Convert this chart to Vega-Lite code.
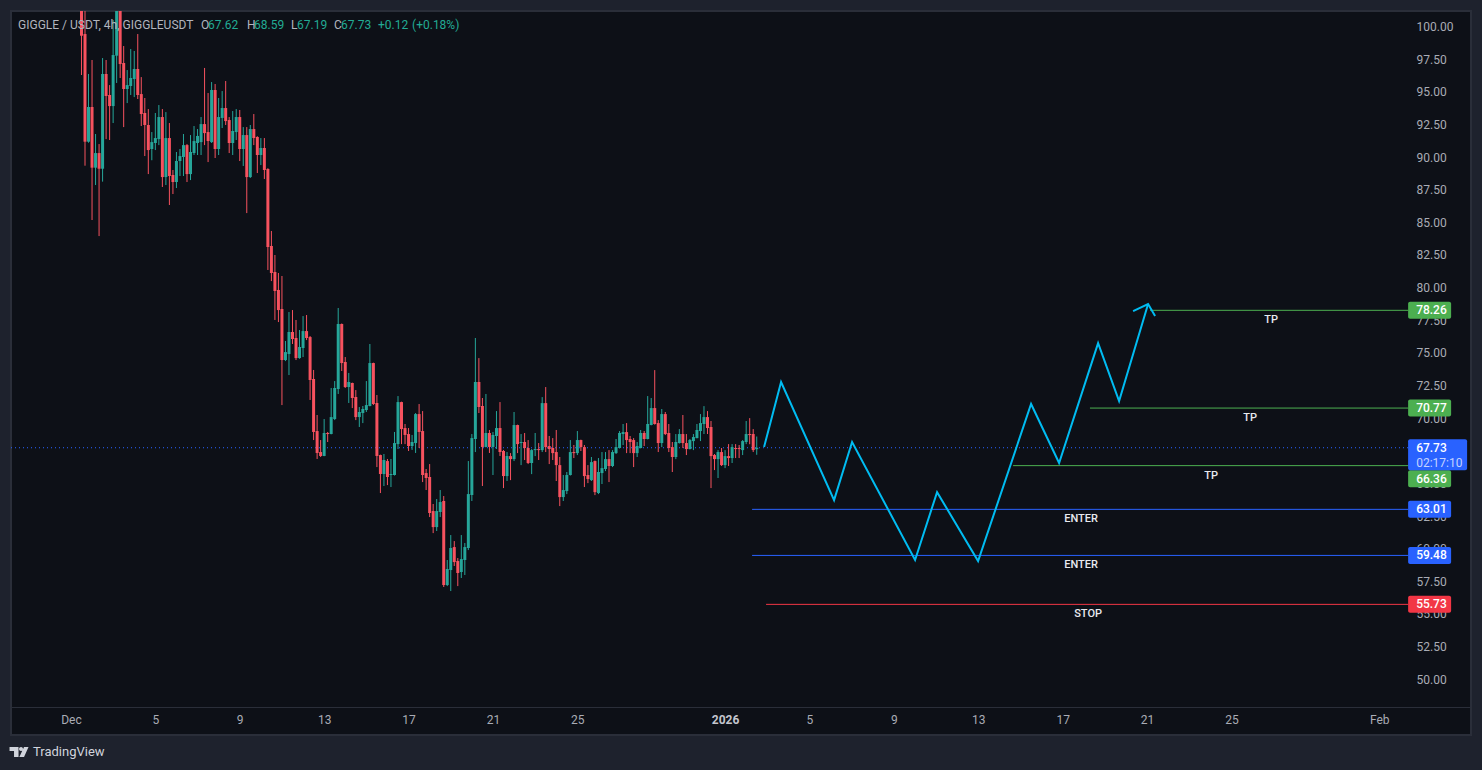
{
  "$schema": "https://vega.github.io/schema/vega-lite/v6.json",
  "width": 1460,
  "height": 724,
  "autosize": "none",
  "padding": {"left": 11, "top": 11, "right": 11, "bottom": 35},
  "background": "#1e222d",
  "datasets": {
    "candles": [
      {"t":"2025-12-01T12:00:00Z","o":103,"h":104.5,"l":96.29,"c":99.3},
      {"t":"2025-12-01T16:00:00Z","o":99.43,"h":103,"l":89.34,"c":91.18},
      {"t":"2025-12-01T20:00:00Z","o":91.18,"h":96.37,"l":91.1,"c":93.84},
      {"t":"2025-12-02T00:00:00Z","o":93.84,"h":97.44,"l":85.18,"c":89.19},
      {"t":"2025-12-02T04:00:00Z","o":89.19,"h":91.77,"l":87.86,"c":90.31},
      {"t":"2025-12-02T08:00:00Z","o":90.31,"h":91,"l":83.95,"c":89.11},
      {"t":"2025-12-02T12:00:00Z","o":89.11,"h":97.59,"l":88.12,"c":96.37},
      {"t":"2025-12-02T16:00:00Z","o":96.37,"h":97.44,"l":91.38,"c":94.68},
      {"t":"2025-12-02T20:00:00Z","o":94.76,"h":95.52,"l":91.31,"c":93.91},
      {"t":"2025-12-03T00:00:00Z","o":93.91,"h":100.5,"l":92.61,"c":97.82},
      {"t":"2025-12-03T04:00:00Z","o":97.77,"h":104,"l":95.68,"c":102.5},
      {"t":"2025-12-03T08:00:00Z","o":102,"h":103,"l":96.06,"c":97.13},
      {"t":"2025-12-03T12:00:00Z","o":97.21,"h":98.51,"l":92.3,"c":95.22},
      {"t":"2025-12-03T16:00:00Z","o":95.22,"h":96.67,"l":94.14,"c":95.52},
      {"t":"2025-12-03T20:00:00Z","o":95.45,"h":98.28,"l":94.76,"c":96.06},
      {"t":"2025-12-04T00:00:00Z","o":95.98,"h":98.13,"l":94.6,"c":96.75},
      {"t":"2025-12-04T04:00:00Z","o":96.75,"h":99.43,"l":94.45,"c":94.76},
      {"t":"2025-12-04T08:00:00Z","o":94.83,"h":96.13,"l":92.38,"c":93.3},
      {"t":"2025-12-04T12:00:00Z","o":93.38,"h":94.53,"l":90.08,"c":92.46},
      {"t":"2025-12-04T16:00:00Z","o":92.46,"h":93.68,"l":88.7,"c":90.54},
      {"t":"2025-12-04T20:00:00Z","o":90.62,"h":91.92,"l":89.76,"c":91.15},
      {"t":"2025-12-05T00:00:00Z","o":91.08,"h":93.38,"l":90.54,"c":91.46},
      {"t":"2025-12-05T04:00:00Z","o":91.38,"h":93.99,"l":90.92,"c":93.07},
      {"t":"2025-12-05T08:00:00Z","o":93.07,"h":93.68,"l":87.71,"c":88.47},
      {"t":"2025-12-05T12:00:00Z","o":88.47,"h":93.45,"l":87.86,"c":91.46},
      {"t":"2025-12-05T16:00:00Z","o":91.46,"h":92.61,"l":86.33,"c":88.55},
      {"t":"2025-12-05T20:00:00Z","o":88.63,"h":89.01,"l":87.17,"c":88.09},
      {"t":"2025-12-06T00:00:00Z","o":88.09,"h":90.39,"l":87.63,"c":89.7},
      {"t":"2025-12-06T04:00:00Z","o":89.7,"h":90.62,"l":88.55,"c":90.08},
      {"t":"2025-12-06T08:00:00Z","o":90.01,"h":91.77,"l":88.55,"c":90.92},
      {"t":"2025-12-06T12:00:00Z","o":90.92,"h":91,"l":88.09,"c":88.7},
      {"t":"2025-12-06T16:00:00Z","o":88.7,"h":91.69,"l":88.24,"c":90.39},
      {"t":"2025-12-06T20:00:00Z","o":90.31,"h":92.38,"l":90.16,"c":91.23},
      {"t":"2025-12-07T00:00:00Z","o":91.08,"h":92.15,"l":90.16,"c":91.62},
      {"t":"2025-12-07T04:00:00Z","o":91.15,"h":93.07,"l":90.16,"c":92.53},
      {"t":"2025-12-07T08:00:00Z","o":92.53,"h":96.83,"l":90.92,"c":91.84},
      {"t":"2025-12-07T12:00:00Z","o":91.92,"h":94.91,"l":89.62,"c":91.23},
      {"t":"2025-12-07T16:00:00Z","o":91.15,"h":95.75,"l":91.08,"c":95.14},
      {"t":"2025-12-07T20:00:00Z","o":95.14,"h":95.6,"l":89.93,"c":90.62},
      {"t":"2025-12-08T00:00:00Z","o":90.62,"h":94.53,"l":90.16,"c":93.07},
      {"t":"2025-12-08T04:00:00Z","o":93,"h":95.06,"l":92.23,"c":93.76},
      {"t":"2025-12-08T08:00:00Z","o":93.76,"h":95.83,"l":92.46,"c":92.76},
      {"t":"2025-12-08T12:00:00Z","o":92.84,"h":93.07,"l":90.31,"c":91.08},
      {"t":"2025-12-08T16:00:00Z","o":91.08,"h":93.53,"l":90.16,"c":92},
      {"t":"2025-12-08T20:00:00Z","o":91.92,"h":93.68,"l":91.31,"c":93.07},
      {"t":"2025-12-09T00:00:00Z","o":93.07,"h":93.61,"l":89.7,"c":90.62},
      {"t":"2025-12-09T04:00:00Z","o":90.62,"h":92.3,"l":89.32,"c":91.69},
      {"t":"2025-12-09T08:00:00Z","o":91.69,"h":92.3,"l":85.71,"c":88.47},
      {"t":"2025-12-09T12:00:00Z","o":88.47,"h":92.46,"l":88.4,"c":92.15},
      {"t":"2025-12-09T16:00:00Z","o":92.15,"h":93.3,"l":90.92,"c":91.46},
      {"t":"2025-12-09T20:00:00Z","o":91.54,"h":91.6,"l":88.78,"c":90.16},
      {"t":"2025-12-10T00:00:00Z","o":90.16,"h":91.46,"l":89.39,"c":90.7},
      {"t":"2025-12-10T04:00:00Z","o":90.7,"h":91.46,"l":88.32,"c":89.01},
      {"t":"2025-12-10T08:00:00Z","o":89.09,"h":89.15,"l":81.35,"c":83.11},
      {"t":"2025-12-10T12:00:00Z","o":83.19,"h":84.34,"l":80.5,"c":81.12},
      {"t":"2025-12-10T16:00:00Z","o":81.2,"h":82.5,"l":77.52,"c":79.74},
      {"t":"2025-12-10T20:00:00Z","o":79.82,"h":81.12,"l":77.36,"c":78.28},
      {"t":"2025-12-11T00:00:00Z","o":78.36,"h":80.89,"l":71,"c":74.45},
      {"t":"2025-12-11T04:00:00Z","o":74.45,"h":75.91,"l":74.37,"c":75.06},
      {"t":"2025-12-11T08:00:00Z","o":74.91,"h":78.13,"l":73.3,"c":76.6},
      {"t":"2025-12-11T12:00:00Z","o":76.6,"h":78.28,"l":75.68,"c":76.06},
      {"t":"2025-12-11T16:00:00Z","o":76.14,"h":77.52,"l":74.45,"c":74.6},
      {"t":"2025-12-11T20:00:00Z","o":74.6,"h":76.75,"l":74.55,"c":75.45},
      {"t":"2025-12-12T00:00:00Z","o":75.37,"h":77.82,"l":74.68,"c":76.67},
      {"t":"2025-12-12T04:00:00Z","o":76.67,"h":77.9,"l":75.98,"c":76.14},
      {"t":"2025-12-12T08:00:00Z","o":76.21,"h":76.29,"l":71.39,"c":72.92},
      {"t":"2025-12-12T12:00:00Z","o":73,"h":73.69,"l":68.32,"c":68.94},
      {"t":"2025-12-12T16:00:00Z","o":69.01,"h":70.24,"l":66.87,"c":67.33},
      {"t":"2025-12-12T20:00:00Z","o":67.4,"h":68.32,"l":67.02,"c":67.1},
      {"t":"2025-12-13T00:00:00Z","o":67.1,"h":69.93,"l":67.08,"c":68.86},
      {"t":"2025-12-13T04:00:00Z","o":68.86,"h":68.94,"l":68.17,"c":68.78},
      {"t":"2025-12-13T08:00:00Z","o":68.78,"h":72.31,"l":68.76,"c":70.08},
      {"t":"2025-12-13T12:00:00Z","o":69.93,"h":72.84,"l":69.85,"c":72.31},
      {"t":"2025-12-13T16:00:00Z","o":72.23,"h":78.44,"l":71.85,"c":77.21},
      {"t":"2025-12-13T20:00:00Z","o":77.21,"h":77.25,"l":73.61,"c":74.22},
      {"t":"2025-12-14T00:00:00Z","o":74.3,"h":74.68,"l":72.31,"c":72.38},
      {"t":"2025-12-14T04:00:00Z","o":72.38,"h":73.46,"l":71.16,"c":72.77},
      {"t":"2025-12-14T08:00:00Z","o":72.69,"h":72.72,"l":70.77,"c":71.54},
      {"t":"2025-12-14T12:00:00Z","o":71.62,"h":72.15,"l":69.85,"c":70.08},
      {"t":"2025-12-14T16:00:00Z","o":70.08,"h":70.85,"l":69.32,"c":70.47},
      {"t":"2025-12-14T20:00:00Z","o":70.39,"h":70.93,"l":69.62,"c":70.7},
      {"t":"2025-12-15T00:00:00Z","o":70.62,"h":72.84,"l":70.47,"c":71},
      {"t":"2025-12-15T04:00:00Z","o":70.93,"h":75.68,"l":70.9,"c":74.22},
      {"t":"2025-12-15T08:00:00Z","o":74.22,"h":74.25,"l":71,"c":71.08},
      {"t":"2025-12-15T12:00:00Z","o":71.16,"h":71.77,"l":66.25,"c":67.1},
      {"t":"2025-12-15T16:00:00Z","o":67.17,"h":67.2,"l":64.26,"c":65.72},
      {"t":"2025-12-15T20:00:00Z","o":65.72,"h":67.25,"l":64.8,"c":66.79},
      {"t":"2025-12-16T00:00:00Z","o":66.71,"h":66.87,"l":64.87,"c":65.49},
      {"t":"2025-12-16T04:00:00Z","o":65.64,"h":66.87,"l":64.72,"c":65.72},
      {"t":"2025-12-16T08:00:00Z","o":65.64,"h":68.94,"l":65.6,"c":68.09},
      {"t":"2025-12-16T12:00:00Z","o":68.01,"h":71.69,"l":67.63,"c":71.23},
      {"t":"2025-12-16T16:00:00Z","o":71.23,"h":71.26,"l":68.01,"c":69.16},
      {"t":"2025-12-16T20:00:00Z","o":69.24,"h":69.55,"l":68.01,"c":68.71},
      {"t":"2025-12-17T00:00:00Z","o":68.78,"h":69.24,"l":67.48,"c":67.86},
      {"t":"2025-12-17T04:00:00Z","o":67.86,"h":68.71,"l":67.56,"c":68.17},
      {"t":"2025-12-17T08:00:00Z","o":68.09,"h":70.39,"l":67.33,"c":70.31},
      {"t":"2025-12-17T12:00:00Z","o":70.31,"h":71.08,"l":67.71,"c":68.94},
      {"t":"2025-12-17T16:00:00Z","o":69.01,"h":70.54,"l":65.1,"c":65.64},
      {"t":"2025-12-17T20:00:00Z","o":65.79,"h":66.1,"l":64.49,"c":65.41},
      {"t":"2025-12-18T00:00:00Z","o":65.49,"h":66.48,"l":62.42,"c":62.73},
      {"t":"2025-12-18T04:00:00Z","o":62.88,"h":63.42,"l":61.19,"c":61.65},
      {"t":"2025-12-18T08:00:00Z","o":61.65,"h":63.8,"l":61.35,"c":62.88},
      {"t":"2025-12-18T12:00:00Z","o":62.81,"h":64.49,"l":62.42,"c":63.57},
      {"t":"2025-12-18T16:00:00Z","o":63.65,"h":64.03,"l":57.06,"c":57.21},
      {"t":"2025-12-18T20:00:00Z","o":57.21,"h":59.13,"l":57.13,"c":58.44},
      {"t":"2025-12-19T00:00:00Z","o":58.36,"h":61.04,"l":56.75,"c":60.05},
      {"t":"2025-12-19T04:00:00Z","o":60.12,"h":60.58,"l":58.67,"c":58.97},
      {"t":"2025-12-19T08:00:00Z","o":59.05,"h":59.28,"l":57.13,"c":58.13},
      {"t":"2025-12-19T12:00:00Z","o":58.21,"h":61.04,"l":57.75,"c":59.2},
      {"t":"2025-12-19T16:00:00Z","o":59.13,"h":60.43,"l":57.98,"c":60.12},
      {"t":"2025-12-19T20:00:00Z","o":60.05,"h":66.71,"l":59.89,"c":64.18},
      {"t":"2025-12-20T00:00:00Z","o":64.11,"h":68.78,"l":63.65,"c":68.47},
      {"t":"2025-12-20T04:00:00Z","o":68.4,"h":76.14,"l":67.4,"c":72.77},
      {"t":"2025-12-20T08:00:00Z","o":72.77,"h":74.6,"l":70.39,"c":70.85},
      {"t":"2025-12-20T12:00:00Z","o":70.93,"h":71.54,"l":64.8,"c":67.79},
      {"t":"2025-12-20T16:00:00Z","o":67.79,"h":71.85,"l":67.76,"c":68.86},
      {"t":"2025-12-20T20:00:00Z","o":68.86,"h":69.09,"l":67.33,"c":67.79},
      {"t":"2025-12-21T00:00:00Z","o":67.79,"h":68.94,"l":65.64,"c":68.71},
      {"t":"2025-12-21T04:00:00Z","o":68.63,"h":70.54,"l":67.63,"c":69.24},
      {"t":"2025-12-21T08:00:00Z","o":69.24,"h":71.23,"l":67.1,"c":67.4},
      {"t":"2025-12-21T12:00:00Z","o":67.48,"h":67.56,"l":64.64,"c":65.56},
      {"t":"2025-12-21T16:00:00Z","o":65.56,"h":67.4,"l":65.18,"c":67.1},
      {"t":"2025-12-21T20:00:00Z","o":67.09,"h":67.32,"l":65.25,"c":66.86},
      {"t":"2025-12-22T00:00:00Z","o":66.86,"h":70.47,"l":66.71,"c":69.47},
      {"t":"2025-12-22T04:00:00Z","o":69.47,"h":69.5,"l":67.32,"c":68.01},
      {"t":"2025-12-22T08:00:00Z","o":68.09,"h":68.78,"l":66.4,"c":68.17},
      {"t":"2025-12-22T12:00:00Z","o":68.17,"h":68.86,"l":66.79,"c":67.71},
      {"t":"2025-12-22T16:00:00Z","o":67.71,"h":68.32,"l":66.48,"c":66.56},
      {"t":"2025-12-22T20:00:00Z","o":66.56,"h":67.63,"l":65.71,"c":67.55},
      {"t":"2025-12-23T00:00:00Z","o":67.55,"h":68.86,"l":67.09,"c":67.63},
      {"t":"2025-12-23T04:00:00Z","o":67.63,"h":68.09,"l":66.79,"c":67.55},
      {"t":"2025-12-23T08:00:00Z","o":67.55,"h":71.61,"l":67.4,"c":71.15},
      {"t":"2025-12-23T12:00:00Z","o":71.15,"h":72.38,"l":67.4,"c":67.78},
      {"t":"2025-12-23T16:00:00Z","o":67.86,"h":68.63,"l":66.48,"c":67.63},
      {"t":"2025-12-23T20:00:00Z","o":67.71,"h":68.47,"l":66.79,"c":67.32},
      {"t":"2025-12-24T00:00:00Z","o":67.4,"h":69.09,"l":65.18,"c":66.4},
      {"t":"2025-12-24T04:00:00Z","o":66.4,"h":67.02,"l":63.26,"c":63.95},
      {"t":"2025-12-24T08:00:00Z","o":63.95,"h":65.64,"l":63.65,"c":64.49},
      {"t":"2025-12-24T12:00:00Z","o":64.41,"h":65.87,"l":64.18,"c":65.64},
      {"t":"2025-12-24T16:00:00Z","o":65.64,"h":68.32,"l":65.6,"c":67.4},
      {"t":"2025-12-24T20:00:00Z","o":67.4,"h":67.94,"l":66.94,"c":67.32},
      {"t":"2025-12-25T00:00:00Z","o":67.32,"h":69.01,"l":67.17,"c":68.32},
      {"t":"2025-12-25T04:00:00Z","o":68.32,"h":68.35,"l":67.48,"c":67.78},
      {"t":"2025-12-25T08:00:00Z","o":67.78,"h":67.94,"l":64.72,"c":65.56},
      {"t":"2025-12-25T12:00:00Z","o":65.64,"h":66.4,"l":65.02,"c":65.33},
      {"t":"2025-12-25T16:00:00Z","o":65.25,"h":67.02,"l":65.18,"c":66.63},
      {"t":"2025-12-25T20:00:00Z","o":66.71,"h":66.75,"l":64.1,"c":64.33},
      {"t":"2025-12-26T00:00:00Z","o":64.26,"h":66.94,"l":64.18,"c":65.87},
      {"t":"2025-12-26T04:00:00Z","o":65.79,"h":67.4,"l":64.95,"c":66.17},
      {"t":"2025-12-26T08:00:00Z","o":66.1,"h":67.4,"l":65.94,"c":66.86},
      {"t":"2025-12-26T12:00:00Z","o":66.86,"h":67.55,"l":65.1,"c":66.33},
      {"t":"2025-12-26T16:00:00Z","o":66.33,"h":67.55,"l":66.25,"c":67.4},
      {"t":"2025-12-26T20:00:00Z","o":67.32,"h":68.4,"l":67.25,"c":67.78},
      {"t":"2025-12-27T00:00:00Z","o":67.71,"h":69.01,"l":67.68,"c":68.86},
      {"t":"2025-12-27T04:00:00Z","o":68.78,"h":69.55,"l":67.94,"c":68.93},
      {"t":"2025-12-27T08:00:00Z","o":68.93,"h":69.62,"l":67.32,"c":68.32},
      {"t":"2025-12-27T12:00:00Z","o":68.4,"h":68.63,"l":67.32,"c":68.17},
      {"t":"2025-12-27T16:00:00Z","o":68.32,"h":68.47,"l":66.25,"c":67.32},
      {"t":"2025-12-27T20:00:00Z","o":67.32,"h":68.17,"l":67.02,"c":67.86},
      {"t":"2025-12-28T00:00:00Z","o":67.71,"h":69.09,"l":67.68,"c":68.86},
      {"t":"2025-12-28T04:00:00Z","o":68.86,"h":69.01,"l":67.86,"c":68.4},
      {"t":"2025-12-28T08:00:00Z","o":68.4,"h":71.69,"l":68.37,"c":69.55},
      {"t":"2025-12-28T12:00:00Z","o":69.47,"h":71.54,"l":69.45,"c":70.77},
      {"t":"2025-12-28T16:00:00Z","o":70.77,"h":73.68,"l":69.5,"c":69.55},
      {"t":"2025-12-28T20:00:00Z","o":69.62,"h":69.85,"l":67.4,"c":68.09},
      {"t":"2025-12-29T00:00:00Z","o":68.09,"h":70.7,"l":67.78,"c":70.31},
      {"t":"2025-12-29T04:00:00Z","o":70.31,"h":70.47,"l":68.7,"c":68.78},
      {"t":"2025-12-29T08:00:00Z","o":68.86,"h":69.55,"l":67.4,"c":67.71},
      {"t":"2025-12-29T12:00:00Z","o":67.78,"h":68.17,"l":65.87,"c":67.02},
      {"t":"2025-12-29T16:00:00Z","o":67.02,"h":68.78,"l":66.86,"c":68.17},
      {"t":"2025-12-29T20:00:00Z","o":68.09,"h":69.16,"l":68.05,"c":68.78},
      {"t":"2025-12-30T00:00:00Z","o":68.78,"h":70.24,"l":67.71,"c":68.09},
      {"t":"2025-12-30T04:00:00Z","o":68.09,"h":68.78,"l":67.17,"c":67.63},
      {"t":"2025-12-30T08:00:00Z","o":67.63,"h":68.4,"l":67.6,"c":68.32},
      {"t":"2025-12-30T12:00:00Z","o":68.24,"h":68.78,"l":67.55,"c":68.55},
      {"t":"2025-12-30T16:00:00Z","o":68.47,"h":69.55,"l":68.45,"c":69.09},
      {"t":"2025-12-30T20:00:00Z","o":69.01,"h":70.31,"l":68.24,"c":69.62},
      {"t":"2025-12-31T00:00:00Z","o":69.55,"h":70.92,"l":68.78,"c":70.08},
      {"t":"2025-12-31T04:00:00Z","o":70.08,"h":70.54,"l":68.78,"c":69.24},
      {"t":"2025-12-31T08:00:00Z","o":69.32,"h":69.78,"l":64.64,"c":67.09},
      {"t":"2025-12-31T12:00:00Z","o":67.17,"h":67.25,"l":66.02,"c":66.86},
      {"t":"2025-12-31T16:00:00Z","o":66.86,"h":67.55,"l":65.41,"c":67.4},
      {"t":"2025-12-31T20:00:00Z","o":67.4,"h":67.71,"l":66.33,"c":66.4},
      {"t":"2026-01-01T00:00:00Z","o":66.4,"h":67.55,"l":66.17,"c":67.09},
      {"t":"2026-01-01T04:00:00Z","o":67.09,"h":68.01,"l":66.33,"c":66.94},
      {"t":"2026-01-01T08:00:00Z","o":66.94,"h":68.01,"l":66.56,"c":67.78},
      {"t":"2026-01-01T12:00:00Z","o":67.71,"h":68.01,"l":66.94,"c":67.63},
      {"t":"2026-01-01T16:00:00Z","o":67.71,"h":67.94,"l":66.94,"c":67.63},
      {"t":"2026-01-01T20:00:00Z","o":67.55,"h":68.32,"l":67.17,"c":68.24},
      {"t":"2026-01-02T00:00:00Z","o":68.17,"h":69.78,"l":68.01,"c":68.78},
      {"t":"2026-01-02T04:00:00Z","o":68.78,"h":70,"l":68,"c":68.7},
      {"t":"2026-01-02T08:00:00Z","o":68.78,"h":69.16,"l":67.4,"c":67.55},
      {"t":"2026-01-02T12:00:00Z","o":67.62,"h":68.59,"l":67.19,"c":67.73}
    ],
    "forecast": [
      {"t":"2026-01-02T20:21:00Z","p":67.79,"leg":"path"},
      {"t":"2026-01-03T15:42:00Z","p":72.77,"leg":"path"},
      {"t":"2026-01-06T03:59:00Z","p":63.72,"leg":"path"},
      {"t":"2026-01-07T00:27:00Z","p":68.17,"leg":"path"},
      {"t":"2026-01-10T00:07:00Z","p":59.13,"leg":"path"},
      {"t":"2026-01-11T01:08:00Z","p":64.33,"leg":"path"},
      {"t":"2026-01-12T23:46:00Z","p":59.05,"leg":"path"},
      {"t":"2026-01-15T12:03:00Z","p":71.08,"leg":"path"},
      {"t":"2026-01-16T19:55:00Z","p":66.56,"leg":"path"},
      {"t":"2026-01-18T16:16:00Z","p":75.75,"leg":"path"},
      {"t":"2026-01-19T16:09:00Z","p":71.31,"leg":"path"},
      {"t":"2026-01-21T01:08:00Z","p":78.74,"leg":"path"},
      {"t":"2026-01-20T08:04:00Z","p":78.2,"leg":"head"},
      {"t":"2026-01-21T01:08:00Z","p":78.74,"leg":"head"},
      {"t":"2026-01-21T09:06:00Z","p":77.82,"leg":"head"}
    ],
    "levels": [
      {"kind":"TP","price":78.26,"at":78.26,"start":"2026-01-21T03:25:00Z","end":"2026-02-02T09:00:00Z","labelTime":"2026-01-26T21:03:00Z"},
      {"kind":"TP","price":70.77,"at":70.77,"start":"2026-01-18T07:00:00Z","end":"2026-02-02T09:00:00Z","labelTime":"2026-01-25T21:07:00Z"},
      {"kind":"TP","price":66.36,"at":65.36,"start":"2026-01-14T15:36:00Z","end":"2026-02-02T09:00:00Z","labelTime":"2026-01-24T00:46:00Z"},
      {"kind":"ENTER","price":63.01,"at":63.01,"start":"2026-01-02T06:43:00Z","end":"2026-02-02T09:00:00Z","labelTime":"2026-01-17T20:53:00Z"},
      {"kind":"ENTER","price":59.48,"at":59.48,"start":"2026-01-02T06:43:00Z","end":"2026-02-02T09:00:00Z","labelTime":"2026-01-17T20:53:00Z"},
      {"kind":"STOP","price":55.73,"at":55.73,"start":"2026-01-02T22:38:00Z","end":"2026-02-02T09:00:00Z","labelTime":"2026-01-18T04:54:00Z"}
    ],
    "last": [
      {"price":67.73,"start":"2025-11-28T03:50:00Z","end":"2026-02-02T09:00:00Z","countdown":"02:17:10"}
    ],
    "header": [
      {"t":"2025-11-28T11:50:00Z","p":100.16,"text":"GIGGLE / USDT, 4h, GIGGLEUSDT","kind":"name"},
      {"t":"2025-12-07T03:59:00Z","p":100.16,"text":"O","kind":"name"},
      {"t":"2025-12-07T11:57:00Z","p":100.16,"text":"67.62","kind":"value"},
      {"t":"2025-12-09T08:18:00Z","p":100.16,"text":"H","kind":"name"},
      {"t":"2025-12-09T16:19:00Z","p":100.16,"text":"68.59","kind":"value"},
      {"t":"2025-12-11T10:19:00Z","p":100.16,"text":"L","kind":"name"},
      {"t":"2025-12-11T17:11:00Z","p":100.16,"text":"67.19","kind":"value"},
      {"t":"2025-12-13T11:17:00Z","p":100.16,"text":"C","kind":"name"},
      {"t":"2025-12-13T19:12:00Z","p":100.16,"text":"67.73","kind":"value"},
      {"t":"2025-12-15T13:19:00Z","p":100.16,"text":"+0.12","kind":"value"},
      {"t":"2025-12-17T03:59:00Z","p":100.16,"text":"(+0.18%)","kind":"value"}
    ]
  },
  "config": {
    "font": "Roboto",
    "view": {"fill": "#0d1017", "stroke": "#2a2e39", "strokeWidth": 2},
    "axis": {"labelOverlap": false, "labelFlush": false, "labelBound": false}
  },
  "layer": [
    {
      "data": {"name": "last"},
      "mark": {"type": "rule", "color": "#2962ff", "strokeWidth": 1, "strokeDash": [1, 3]},
      "encoding": {
        "x": {
          "field": "start",
          "type": "temporal",
          "title": null,
          "scale": {
            "type": "utc",
            "padding": 0,
            "domain": [
              {"year": 2025, "month": 11, "date": 28, "hours": 3, "minutes": 50, "utc": true},
              {"year": 2026, "month": 2, "date": 5, "hours": 8, "minutes": 24, "utc": true}
            ]
          },
          "axis": {
            "orient": "bottom",
            "offset": -28,
            "grid": false,
            "ticks": false,
            "title": null,
            "domainColor": "#2a2e39",
            "labelColor": {
              "condition": {"test": "utcmonth(datum.value) == 0 && utcdate(datum.value) == 1", "value": "#c3c6ce"},
              "value": "#a9acb5"
            },
            "labelFontWeight": {
              "condition": {"test": "utcmonth(datum.value) == 0 && utcdate(datum.value) == 1", "value": "bold"},
              "value": "normal"
            },
            "labelFontSize": 12,
            "labelPadding": 7,
            "values": [
              {"year": 2025, "month": 12, "date": 1, "utc": true},
              {"year": 2025, "month": 12, "date": 5, "utc": true},
              {"year": 2025, "month": 12, "date": 9, "utc": true},
              {"year": 2025, "month": 12, "date": 13, "utc": true},
              {"year": 2025, "month": 12, "date": 17, "utc": true},
              {"year": 2025, "month": 12, "date": 21, "utc": true},
              {"year": 2025, "month": 12, "date": 25, "utc": true},
              {"year": 2026, "month": 1, "date": 1, "utc": true},
              {"year": 2026, "month": 1, "date": 5, "utc": true},
              {"year": 2026, "month": 1, "date": 9, "utc": true},
              {"year": 2026, "month": 1, "date": 13, "utc": true},
              {"year": 2026, "month": 1, "date": 17, "utc": true},
              {"year": 2026, "month": 1, "date": 21, "utc": true},
              {"year": 2026, "month": 1, "date": 25, "utc": true},
              {"year": 2026, "month": 2, "date": 1, "utc": true}
            ],
            "labelExpr": "utcdate(datum.value) == 1 ? (utcmonth(datum.value) == 0 ? '2026' : utcmonth(datum.value) == 1 ? 'Feb' : 'Dec') : '' + utcdate(datum.value)"
          }
        },
        "x2": {"field": "end"},
        "y": {
          "field": "price",
          "type": "quantitative",
          "title": null,
          "scale": {"domain": [45.72, 101.195], "nice": false, "zero": false},
          "axis": {
            "orient": "right",
            "offset": -68,
            "grid": false,
            "ticks": false,
            "domain": false,
            "title": null,
            "labelColor": "#a9acb5",
            "labelFontSize": 12,
            "labelAlign": "left",
            "labelPadding": 13,
            "format": ".2f",
            "tickCount": 30,
            "values": [50, 52.5, 55, 57.5, 60, 62.5, 65, 67.5, 70, 72.5, 75, 77.5, 80, 82.5, 85, 87.5, 90, 92.5, 95, 97.5, 100]
          }
        }
      }
    },
    {
      "data": {"name": "candles"},
      "mark": {"type": "rule", "strokeWidth": 1, "clip": true},
      "encoding": {
        "x": {"field": "t", "type": "temporal", "title": null},
        "y": {"field": "h", "type": "quantitative", "title": null},
        "y2": {"field": "l"},
        "color": {"condition": {"test": "datum.c >= datum.o", "value": "#26a69a"}, "value": "#f7525f"}
      }
    },
    {
      "data": {"name": "candles"},
      "mark": {"type": "bar", "size": 3, "clip": true},
      "encoding": {
        "x": {"field": "t", "type": "temporal", "title": null},
        "y": {"field": "o", "type": "quantitative", "title": null},
        "y2": {"field": "c"},
        "color": {"condition": {"test": "datum.c >= datum.o", "value": "#26a69a"}, "value": "#f7525f"}
      }
    },
    {
      "data": {"name": "levels"},
      "mark": {"type": "rule", "strokeWidth": 1},
      "encoding": {
        "x": {"field": "start", "type": "temporal", "title": null},
        "x2": {"field": "end"},
        "y": {"field": "price", "type": "quantitative", "title": null},
        "color": {
          "field": "kind",
          "type": "nominal",
          "legend": null,
          "scale": {"domain": ["TP", "ENTER", "STOP"], "range": ["#4caf50", "#2962ff", "#f23645"]}
        }
      }
    },
    {
      "data": {"name": "levels"},
      "mark": {"type": "text", "fontSize": 11, "fontWeight": 500, "color": "#e8eaf0", "align": "center", "baseline": "middle", "yOffset": 10},
      "encoding": {
        "x": {"field": "labelTime", "type": "temporal", "title": null},
        "y": {"field": "price", "type": "quantitative", "title": null},
        "text": {"field": "kind"}
      }
    },
    {
      "data": {"name": "forecast"},
      "mark": {"type": "line", "color": "#00bcf2", "strokeWidth": 2},
      "encoding": {
        "x": {"field": "t", "type": "temporal", "title": null},
        "y": {"field": "p", "type": "quantitative", "title": null},
        "detail": {"field": "leg"}
      }
    },
    {
      "data": {"name": "levels"},
      "mark": {"type": "rect", "width": 43, "height": 17, "cornerRadius": 2},
      "encoding": {
        "x": {"datum": {"year": 2026, "month": 2, "date": 3, "hours": 9, "minutes": 20, "utc": true}, "type": "temporal", "title": null},
        "y": {"field": "at", "type": "quantitative", "title": null},
        "color": {"field": "kind", "type": "nominal", "legend": null}
      }
    },
    {
      "data": {"name": "levels"},
      "mark": {"type": "text", "fontSize": 12, "fontWeight": 500, "color": "#ffffff", "align": "left", "baseline": "middle"},
      "encoding": {
        "x": {"datum": {"year": 2026, "month": 2, "date": 2, "hours": 18, "utc": true}, "type": "temporal", "title": null},
        "y": {"field": "at", "type": "quantitative", "title": null},
        "text": {"field": "price", "type": "quantitative", "format": ".2f"}
      }
    },
    {
      "data": {"name": "last"},
      "mark": {"type": "rect", "width": 59, "height": 31, "cornerRadius": 2, "color": "#2962ff", "yOffset": 7},
      "encoding": {
        "x": {"datum": {"year": 2026, "month": 2, "date": 3, "hours": 18, "minutes": 25, "utc": true}, "type": "temporal", "title": null},
        "y": {"field": "price", "type": "quantitative", "title": null}
      }
    },
    {
      "data": {"name": "last"},
      "mark": {"type": "text", "fontSize": 12, "fontWeight": 500, "color": "#ffffff", "align": "left", "baseline": "middle"},
      "encoding": {
        "x": {"datum": {"year": 2026, "month": 2, "date": 2, "hours": 18, "utc": true}, "type": "temporal", "title": null},
        "y": {"field": "price", "type": "quantitative", "title": null},
        "text": {"field": "price", "type": "quantitative", "format": ".2f"}
      }
    },
    {
      "data": {"name": "last"},
      "mark": {"type": "text", "fontSize": 12, "color": "#c4d3ff", "align": "left", "baseline": "middle", "yOffset": 15},
      "encoding": {
        "x": {"datum": {"year": 2026, "month": 2, "date": 2, "hours": 18, "utc": true}, "type": "temporal", "title": null},
        "y": {"field": "price", "type": "quantitative", "title": null},
        "text": {"field": "countdown"}
      }
    },
    {
      "data": {"name": "header"},
      "mark": {"type": "text", "fontSize": 12, "align": "left", "baseline": "middle"},
      "encoding": {
        "x": {"field": "t", "type": "temporal", "title": null},
        "y": {"field": "p", "type": "quantitative", "title": null},
        "text": {"field": "text"},
        "color": {"condition": {"test": "datum.kind == 'value'", "value": "#22ab94"}, "value": "#b2b5be"}
      }
    },
    {
      "data": {"values": [{"t": "2025-11-29T04:54:00Z", "p": 44.41, "text": "TradingView"}]},
      "mark": {"type": "text", "fontSize": 13, "color": "#d1d4dc", "align": "left", "baseline": "middle"},
      "encoding": {
        "x": {"field": "t", "type": "temporal", "title": null},
        "y": {"field": "p", "type": "quantitative", "title": null},
        "text": {"field": "text"}
      }
    },
    {
      "data": {"values": [{"t": "2025-11-28T12:58:00Z", "p": 44.41}]},
      "mark": {
        "type": "point",
        "filled": true,
        "opacity": 1,
        "size": 400,
        "color": "#d1d4dc",
        "shape": "M-0.95,-0.5 H-0.05 V0.5 H-0.5 V-0.1 H-0.95 Z M0,-0.3 a0.2,0.2 0 1 0 0.4,0 a0.2,0.2 0 1 0 -0.4,0 Z M0.5,-0.5 H0.95 L0.5,0.5 H0.03 Z"
      },
      "encoding": {
        "x": {"field": "t", "type": "temporal", "title": null},
        "y": {"field": "p", "type": "quantitative", "title": null}
      }
    }
  ]
}
